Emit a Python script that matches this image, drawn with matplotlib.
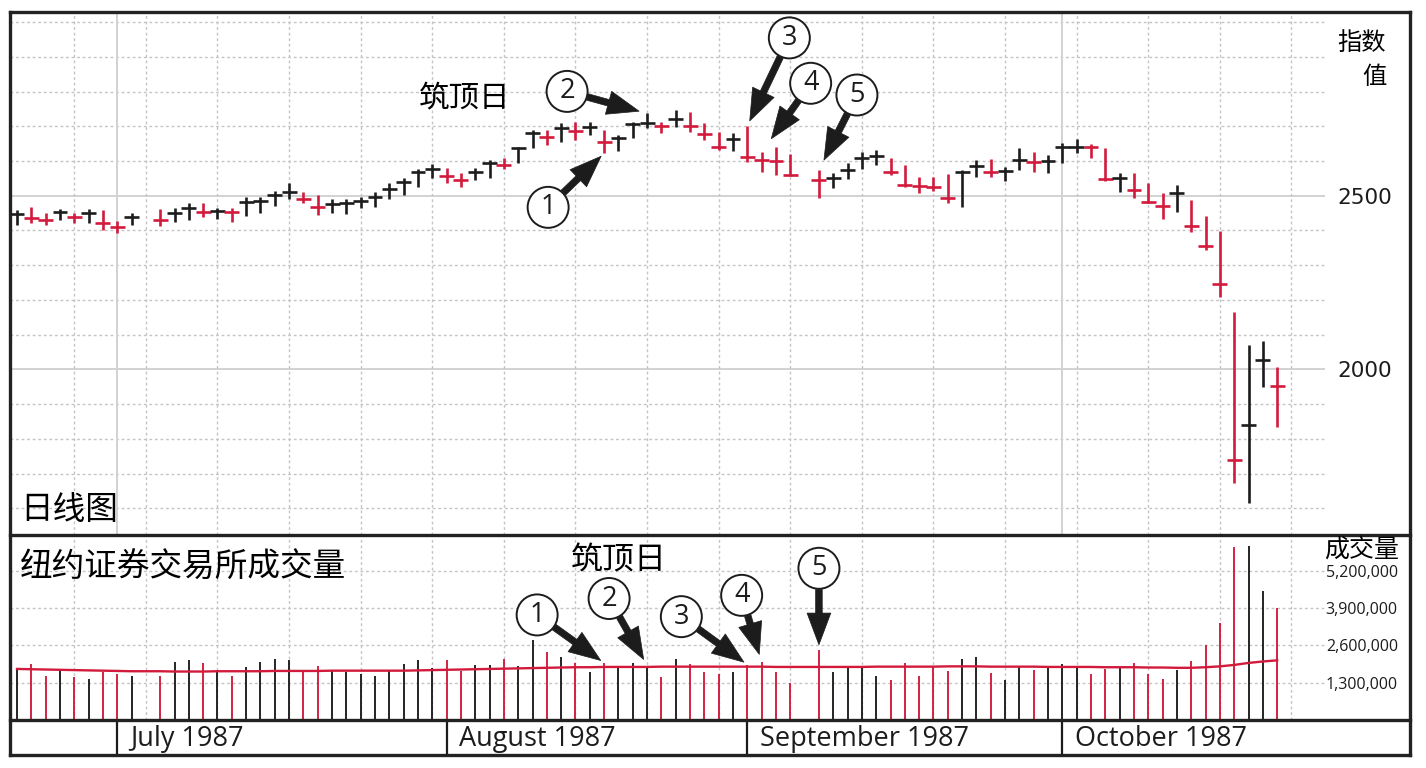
import numpy as np
import pandas as pd
import matplotlib
matplotlib.use('Agg')
import matplotlib.pyplot as plt
from matplotlib.lines import Line2D

# --- data (DJIA daily, June 22 - Oct 22 1987) ---
START = '1987-06-22'
END = '1987-10-22'
HOLIDAYS = ['1987-07-03', '1987-09-07']

HIGH = [2459, 2468, 2449, 2461, 2451, 2461, 2459, 2428, 2449,
        2461, 2466, 2478, 2480, 2466, 2466, 2495, 2497, 2515, 2536, 2512, 2502, 2490, 2490, 2497, 2512, 2538,
        2550, 2576, 2591, 2579, 2564, 2579, 2603, 2610, 2641, 2689, 2689, 2708, 2713, 2713, 2689, 2675, 2712,
        2737, 2713, 2747, 2742, 2708, 2684, 2682, 2701, 2625, 2641, 2620,
        2574, 2565, 2593, 2627, 2632, 2610, 2588, 2555, 2555, 2562, 2574, 2603, 2605, 2584, 2636, 2627, 2618,
        2651, 2662, 2650, 2636, 2564, 2564, 2536, 2507, 2531, 2488,
        2441, 2399, 2166, 2070, 2082, 2006]
LOW = [2416, 2420, 2416, 2430, 2420, 2420, 2401, 2392, 2416,
       2413, 2425, 2430, 2440, 2432, 2425, 2442, 2449, 2470, 2490, 2478, 2444, 2449, 2447, 2464, 2468, 2490,
       2502, 2526, 2550, 2536, 2526, 2545, 2550, 2576, 2593, 2636, 2646, 2656, 2660, 2675, 2622, 2630, 2665,
       2694, 2680, 2699, 2684, 2660, 2632, 2630, 2596, 2569, 2560, 2556,
       2493, 2521, 2547, 2576, 2588, 2560, 2524, 2507, 2514, 2478, 2468, 2555, 2553, 2543, 2574, 2569, 2566,
       2593, 2622, 2610, 2543, 2511, 2492, 2478, 2432, 2454, 2396,
       2344, 2207, 1673, 1614, 1950, 1835]
CLOSE = [2446, 2437, 2430, 2452, 2438, 2449, 2420, 2409, 2438,
         2430, 2451, 2464, 2453, 2456, 2452, 2483, 2486, 2502, 2511, 2490, 2468, 2476, 2479, 2486, 2495, 2520,
         2539, 2569, 2576, 2556, 2546, 2569, 2595, 2588, 2636, 2681, 2669, 2695, 2687, 2698, 2654, 2665, 2706,
         2710, 2700, 2722, 2701, 2677, 2641, 2663, 2612, 2603, 2599, 2561,
         2546, 2550, 2575, 2609, 2613, 2568, 2531, 2528, 2524, 2492, 2568, 2586, 2569, 2572, 2602, 2596, 2599,
         2639, 2641, 2640, 2549, 2551, 2517, 2482, 2471, 2508, 2413,
         2355, 2247, 1739, 1841, 2028, 1951]
# k = up day, r = down day
DIRECTION = ('krrkrkrrk' 'rkkrkrkkkkrrkkkkk' 'kkkrrkkrkkrkrkrkkkrkrrrkrrrr'
             'rkkkkrrrrrkkrkkrkkkrrkrrrkr' 'rrrkkr')
# NYSE volume (millions, chart units) and its moving average
VOLUME = [1.78, 1.96, 1.55, 1.74, 1.51, 1.44, 1.69, 1.59, 1.55,
          1.55, 2.01, 2.08, 1.97, 1.74, 1.53, 1.85, 2.03, 2.11, 2.10, 1.68, 1.87, 1.75, 1.68, 1.60, 1.53, 1.74,
          1.96, 2.08, 1.82, 2.08, 1.70, 1.93, 1.93, 2.13, 1.87, 2.78, 2.38, 2.18, 1.97, 1.68, 1.99, 1.81, 1.97,
          1.90, 1.51, 2.14, 1.96, 1.66, 1.59, 1.68, 1.93, 2.01, 1.68, 1.30,
          2.43, 1.66, 1.81, 1.81, 1.55, 1.38, 1.97, 1.52, 1.90, 1.70, 2.11, 2.20, 1.63, 1.39, 1.89, 1.74, 1.84,
          1.94, 1.90, 1.61, 1.77, 1.85, 2.00, 1.61, 1.42, 1.74, 2.07,
          2.63, 3.39, 6.04, 6.08, 4.49, 3.91]
VOLUME_MA = [1.78, 1.77, 1.76, 1.75, 1.74, 1.73, 1.72, 1.71, 1.70,
             1.70, 1.69, 1.69, 1.69, 1.70, 1.70, 1.70, 1.70, 1.71, 1.71, 1.71, 1.71, 1.72, 1.72, 1.72, 1.72, 1.72,
             1.72, 1.73, 1.74, 1.75, 1.76, 1.77, 1.78, 1.79, 1.80, 1.81, 1.82, 1.83, 1.84, 1.84, 1.85, 1.85, 1.85,
             1.85, 1.86, 1.86, 1.86, 1.86, 1.86, 1.86, 1.86, 1.86, 1.85, 1.85,
             1.85, 1.85, 1.85, 1.85, 1.86, 1.86, 1.86, 1.86, 1.86, 1.87, 1.87, 1.87, 1.86, 1.86, 1.86, 1.86, 1.85,
             1.85, 1.85, 1.85, 1.84, 1.84, 1.84, 1.83, 1.83, 1.82, 1.82,
             1.84, 1.87, 1.92, 1.99, 2.04, 2.08]

PRICE_TICKS = [2000, 2500]
VOLUME_TICKS = [1.3, 2.6, 3.9, 5.2]
MONTHS = ['1987-07-01', '1987-08-03', '1987-09-01', '1987-10-01']
QUARTERS = ['1987-07-01', '1987-10-01']

# circled markers: (label, date, price offset px, volume offset px)
MARKS = [('1', '1987-08-18', (-56, -54), (-67, 48)),
         ('2', '1987-08-21', (-80, 22), (-38, 67)),
         ('3', '1987-09-01', (42, 88), (-66, 48)),
         ('4', '1987-09-02', (49, 69), (-20, 67)),
         ('5', '1987-09-08', (38, 75), (0, 82))]

RED = '#d21a3c'
BLACK = '#1c1c1c'
GRID = '#c4c4c4'
CJK = ['Noto Sans CJK SC', 'DejaVu Sans']

W, H = 1426, 768

days = pd.bdate_range(START, END)
days = days[~days.isin(pd.to_datetime(HOLIDAYS))]


def slot(dates):
    """weekday index counted from START (holidays keep their empty slot)"""
    d = pd.DatetimeIndex(pd.to_datetime(list(dates))).values.astype('datetime64[D]')
    return np.busday_count(np.datetime64(START, 'D'), d)


xs = slot(days).astype(float)
cols = [RED if c == 'r' else BLACK for c in DIRECTION]


def box(x0, y0, x1, y1):
    return [x0 / W, 1 - y1 / H, (x1 - x0) / W, (y1 - y0) / H]


fig = plt.figure(figsize=(W / 100, H / 100), dpi=100)
ax_p = fig.add_axes(box(10, 12, 1325, 535))
ax_v = fig.add_axes(box(10, 535, 1325, 720))
ax_d = fig.add_axes(box(10, 720, 1410, 755))

XL = (-0.49, 91.34)
for ax in (ax_p, ax_v, ax_d):
    for s in ax.spines.values():
        s.set_visible(False)
ax_p.set_xlim(*XL)
ax_v.set_xlim(*XL)
ax_d.set_xlim(-0.49, 97.28)
ax_p.set_ylim(1523, 3029)
ax_v.set_ylim(0, 6.45)
ax_d.set_ylim(0, 1)

dots = (0, (2, 2))
fridays = slot(pd.date_range('1987-06-26', '1987-11-06', freq='W-FRI'))

# price grid
for v in range(1600, 3001, 100):
    if v in PRICE_TICKS:
        ax_p.axhline(v, color='#d2d2d2', lw=1.4, zorder=0)
    else:
        ax_p.axhline(v, color=GRID, lw=1.0, ls=dots, zorder=0)
for f in fridays:
    ax_p.axvline(f, color=GRID, lw=1.0, ls=dots, zorder=0)
    ax_v.axvline(f, color=GRID, lw=1.0, ls=dots, zorder=0)
for q in slot(QUARTERS):
    ax_p.axvline(q, color='#d2d2d2', lw=1.4, zorder=0)
for v in VOLUME_TICKS:
    ax_v.axhline(v, color=GRID, lw=1.0, ls=dots, zorder=0)

# price bars: high-low line with a close cross
ax_p.vlines(xs, LOW, HIGH, colors=cols, lw=1.9, zorder=3)
ax_p.hlines(CLOSE, xs - 0.52, xs + 0.52, colors=cols, lw=1.9, zorder=3)

# volume
ax_v.vlines(xs, 0, VOLUME, colors=cols, lw=1.35, zorder=3)
ax_v.plot(xs, VOLUME_MA, color=RED, lw=1.7, zorder=4)

# axis labels on the right
ax_p.yaxis.tick_right()
ax_p.set_yticks(PRICE_TICKS)
ax_p.set_yticklabels([str(t) for t in PRICE_TICKS])
ax_p.tick_params(axis='y', length=0, pad=8.6, labelsize=15.5, labelcolor=BLACK)
ax_p.set_xticks([])

ax_v.yaxis.tick_right()
ax_v.set_yticks(VOLUME_TICKS)
ax_v.set_yticklabels([f'{int(round(t * 1e6)):,}' for t in VOLUME_TICKS])
ax_v.tick_params(axis='y', length=0, pad=52.5, labelsize=11.5, labelcolor=BLACK)
for lab in ax_v.get_yticklabels():
    lab.set_ha('right')
    lab.set_family('Open Sans')
ax_v.set_xticks([])
ax_d.set_xticks([])
ax_d.set_yticks([])

# month strip
for d, s in zip(MONTHS, slot(MONTHS)):
    ax_d.vlines(s, 0, 1, color=BLACK, lw=1.6)
    ax_d.text(s + 0.9, 0.47, pd.Timestamp(d).strftime('%B %Y'), ha='left', va='center',
              fontsize=19.5, family='Open Sans', color=BLACK)

# circled markers with arrows
arrow = dict(arrowstyle='simple,head_length=1.2,head_width=0.9,tail_width=0.25',
             mutation_scale=19, fc=BLACK, ec=BLACK, lw=0.5, shrinkA=0)
circle = dict(boxstyle='circle,pad=0.24', fc='white', ec=BLACK, lw=1.4)
shrink_p = [3, 6, 4, 12, 8]
shrink_v = [3, 5, 3, 6, 4]
for (lab, d, off_p, off_v), sp, sv in zip(MARKS, shrink_p, shrink_v):
    i = days.get_loc(pd.Timestamp(d))
    yp = LOW[i] if lab == '1' else HIGH[i]
    ax_p.annotate(lab, xy=(xs[i], yp), xytext=off_p, textcoords='offset pixels',
                  ha='center', va='center', fontsize=19.5, family='Open Sans', color=BLACK,
                  bbox=circle, arrowprops=dict(arrow, shrinkB=sp), zorder=6,
                  annotation_clip=False)
    ax_v.annotate(lab, xy=(xs[i], VOLUME[i]), xytext=off_v, textcoords='offset pixels',
                  ha='center', va='center', fontsize=19.5, family='Open Sans', color=BLACK,
                  bbox=circle, arrowprops=dict(arrow, shrinkB=sv), zorder=6,
                  annotation_clip=False)

# texts
fig.text(20 / W, 1 - 510 / H, '日线图', fontsize=23.5, family=CJK, ha='left', va='center')
fig.text(20 / W, 1 - 568 / H, '纽约证券交易所成交量', fontsize=23.5, family=CJK, ha='left', va='center')
fig.text(465 / W, 1 - 98 / H, '筑顶日', fontsize=22, family=CJK, ha='center', va='center')
fig.text(619 / W, 1 - 560 / H, '筑顶日', fontsize=23, family=CJK, ha='center', va='center')
fig.text(1386 / W, 1 - 60 / H, '指数\n值', fontsize=17.5, family=CJK, ha='right', va='center',
         multialignment='right', linespacing=1.45)
fig.text(1399 / W, 1 - 550 / H, '成交量', fontsize=18, family=CJK, ha='right', va='center')


# frame
def fig_line(x0, y0, x1, y1, lw=2.4):
    fig.add_artist(Line2D([x0 / W, x1 / W], [1 - y0 / H, 1 - y1 / H], color='#222222',
                          lw=lw, transform=fig.transFigure, solid_capstyle='projecting'))


fig_line(10, 12, 1410, 12)
fig_line(10, 755, 1410, 755)
fig_line(10, 12, 10, 755)
fig_line(1410, 12, 1410, 755)
fig_line(10, 535, 1410, 535)
fig_line(10, 720, 1410, 720)

fig.savefig('out.png', dpi=100, facecolor='white')
